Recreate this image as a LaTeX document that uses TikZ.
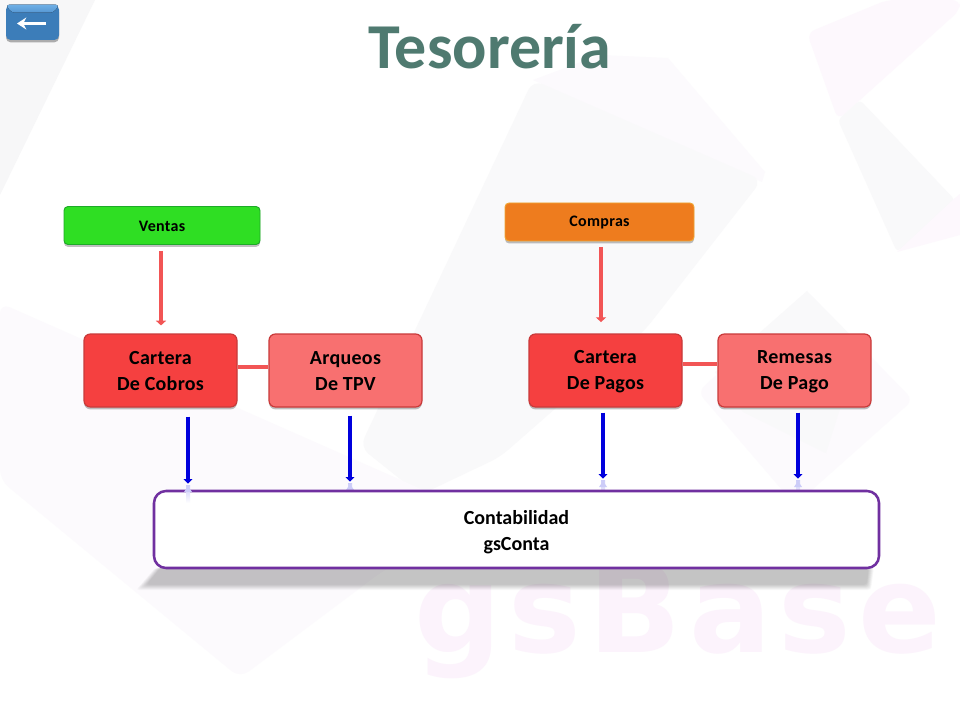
\documentclass[tikz,border=0pt]{standalone}
\usepackage{fontspec}
\setmainfont{Carlito}
\newfontfamily\wmfont{DejaVu Sans}
\usetikzlibrary{arrows.meta,shadows,calc}
\definecolor{bggray}{HTML}{F7F7F8}
\definecolor{bggrayb}{HTML}{F9F9FA}
\definecolor{bglil}{HTML}{FCFAFD}
\definecolor{bglilb}{HTML}{FDF8FD}
\definecolor{wm}{HTML}{FCF3FC}
\definecolor{titlec}{HTML}{4F7A70}
\definecolor{redd}{HTML}{F54040}
\definecolor{redl}{HTML}{F87070}
\definecolor{redb}{HTML}{C93A3A}
\definecolor{conn}{HTML}{F25555}
\definecolor{bluea}{HTML}{0000DD}
\definecolor{purp}{HTML}{7030A0}
\tikzset{
  x=0.75pt,y=-0.75pt,
  softshadow/.style={general shadow={shadow xshift=0pt,shadow yshift=-1.8pt,fill=black,opacity=.25}},
  midtext/.style={align=center,text=black,inner sep=0pt,font=\bfseries\fontsize{15pt}{19.5pt}\selectfont\addfontfeature{LetterSpace=1.5},yshift=-0.6pt},
  toptext/.style={align=center,text=black,inner sep=0pt,font=\bfseries\fontsize{12pt}{14pt}\selectfont\addfontfeature{LetterSpace=2}},
  darkbox/.style={rounded corners=4.8pt,softshadow,draw=redb,line width=.9pt,fill=redd,minimum width=153*0.75pt,minimum height=73*0.75pt,label={[midtext]center:#1}},
  lightbox/.style={rounded corners=4.8pt,softshadow,draw=redb,line width=.9pt,fill=redl,minimum width=153*0.75pt,minimum height=73*0.75pt,label={[midtext]center:#1}},
  topbox/.style={rounded corners=3pt,softshadow,minimum height=38*0.75pt},
  redarrow/.style={draw=conn,line width=3.6pt,-{Triangle[length=3.5pt,width=7.5pt]}},
  redline/.style={draw=conn,line width=3pt},
  bluearrow/.style={draw=bluea,line width=3pt,-{Triangle[length=3.5pt,width=6.5pt]}},
}
\begin{document}
\begin{tikzpicture}
\useasboundingbox (0,0) rectangle (960,720);
\clip (0,0) rectangle (960,720);
\fill[white] (0,0) rectangle (960,720);
% watermark
\fill[bggray] (0,0) -- (95,0) -- (0,195) -- cycle;
\fill[bglil] (533,80) -- (600,55) -- (668,58) -- (765,172) -- (762,182) -- cycle;
\fill[bggrayb,rounded corners=8pt] (533,80) -- (762,180) -- (645,330) -- (500,457) -- (420,495) -- (360,447) -- cycle;
\fill[bglil,rounded corners=8pt] (0,303) -- (480,515) -- (380,573) -- (240,678) -- (0,480) -- cycle;
\fill[bglil,rounded corners=6pt] (807,291) -- (913,400) -- (795,505) -- (698,392) -- cycle;
\fill[bggrayb] (807,291) -- (860,345) -- (826,453) -- (743,412) -- (715,372) -- cycle;
\fill[bglilb,rounded corners=6pt] (807,33) -- (887,0) -- (960,0) -- (960,10) -- (860,100) -- (838,120) -- cycle;
\fill[bggrayb,rounded corners=3pt] (860,100) -- (955,200) -- (897,252) -- (838,120) -- cycle;
\fill[bglilb] (955,198) -- (960,194) -- (960,235) -- (897,252) -- cycle;
\node[anchor=base west,inner sep=0pt,text=wm,font=\wmfont\bfseries\fontsize{91.5pt}{91.5pt}\selectfont\addfontfeature{LetterSpace=6}] (wmark) at (414,652) {gsBase};
% title
\node[font=\bfseries\fontsize{48pt}{52pt}\selectfont,text=titlec,inner sep=0pt] (title) at (490,47) {Tesorería};
% back button
\node[rounded corners=3.5pt,fill={rgb,255:red,60;green,125;blue,185},minimum width=53*0.75pt,minimum height=35*0.75pt,
      general shadow={shadow xshift=0pt,shadow yshift=-1.8pt,fill=black,opacity=.3},inner sep=0pt] (back) at (32.5,22.5) {};
\fill[rounded corners=2.5pt,top color={rgb,255:red,110;green,175;blue,230},bottom color={rgb,255:red,85;green,150;blue,210}]
  (back.north west) -- (back.north east) -- ([xshift=-6*0.75pt,yshift=-8*0.75pt]back.north east) -- ([xshift=6*0.75pt,yshift=-8*0.75pt]back.north west) -- cycle;
\coordinate (backa) at (46,23.5);
\coordinate (backb) at (17,23.5);
\draw[white,line width=2pt,-{Stealth[length=7pt,width=9pt]}] (backa) -- (backb);
% boxes
\node[topbox,draw={rgb,255:red,30;green,170;blue,40},line width=.7pt,fill={rgb,255:red,47;green,222;blue,35},minimum width=196*0.75pt,label={[toptext,yshift=-0.6pt]center:Ventas}] (ventas) at (162,225.5) {};
\node[topbox,draw={rgb,255:red,240;green,165;blue,50},line width=.7pt,fill={rgb,255:red,238;green,124;blue,30},minimum width=189*0.75pt,label={[toptext,yshift=-0.6pt]center:Compras}] (compras) at (599.5,222) {};
\node[darkbox={Cartera\\De Cobros}] (cobros) at (160.5,370.5) {};
\node[lightbox={Arqueos\\De TPV}] (tpv) at (345.5,370.5) {};
\node[darkbox={Cartera\\De Pagos}] (pagos) at (605.5,370.5) {};
\node[lightbox={Remesas\\De Pago}] (remesas) at (794.5,370.5) {};
% conta shadow
\foreach \d in {0,1,...,11}
  \fill[black,opacity=.021,rounded corners=2pt] (155+\d*0.5,568) -- (874-\d*0.5,568) -- (871-\d*0.4,590-\d*0.5) -- (136+\d*1.0,590-\d*0.5) -- cycle;
% reflections behind the box
\foreach \tx/\yend in {350/483,603/480,798/480}{
  \shade[top color=bluea!20,bottom color=bluea!8] (\tx-2,\yend) rectangle (\tx+2,\yend+12);
  \fill[bluea!20] (\tx-4,\yend+7) -- (\tx+4,\yend+7) -- (\tx,\yend+1) -- cycle;
}
\node[rounded corners=9pt,draw=purp,line width=1.9pt,fill=white,minimum width=725*0.75pt,minimum height=77*0.75pt,
      label={[align=center,inner sep=0pt,yshift=-2pt,font=\bfseries\fontsize{15pt}{19.5pt}\selectfont,text=black]center:Contabilidad\\gsConta}] (conta) at (516.5,529.5) {};
\shade[top color=bluea!20,bottom color=white] (186,485) rectangle (190,503);
\fill[bluea!20] (184,492) -- (192,492) -- (188,486) -- cycle;
% connectors
\coordinate (v0) at (161,245);
\coordinate (c0) at (601,241);
\draw[redarrow,shorten <=4.5pt,shorten >=6pt] (v0) -- (v0 |- cobros.north);
\draw[redarrow,shorten <=4.5pt,shorten >=8.5pt] (c0) -- (c0 |- pagos.north);
\coordinate (l1) at (0,367);
\coordinate (l2) at (0,364);
\draw[redline] (cobros.east |- l1) -- (tpv.west |- l1);
\draw[redline] (pagos.east |- l2) -- (remesas.west |- l2);
\coordinate (xa) at (188,0);
\coordinate (xb) at (350,0);
\coordinate (xc) at (603,0);
\coordinate (xd) at (798,0);
\draw[bluearrow,shorten <=6.75pt,shorten >=4.5pt] (xa |- cobros.south) -- (xa |- conta.north);
\draw[bluearrow,shorten <=6pt,shorten >=6pt] (xb |- tpv.south) -- (xb |- conta.north);
\draw[bluearrow,shorten <=3.75pt,shorten >=8.25pt] (xc |- pagos.south) -- (xc |- conta.north);
\draw[bluearrow,shorten <=3.75pt,shorten >=8.25pt] (xd |- remesas.south) -- (xd |- conta.north);
\end{tikzpicture}
\end{document}
